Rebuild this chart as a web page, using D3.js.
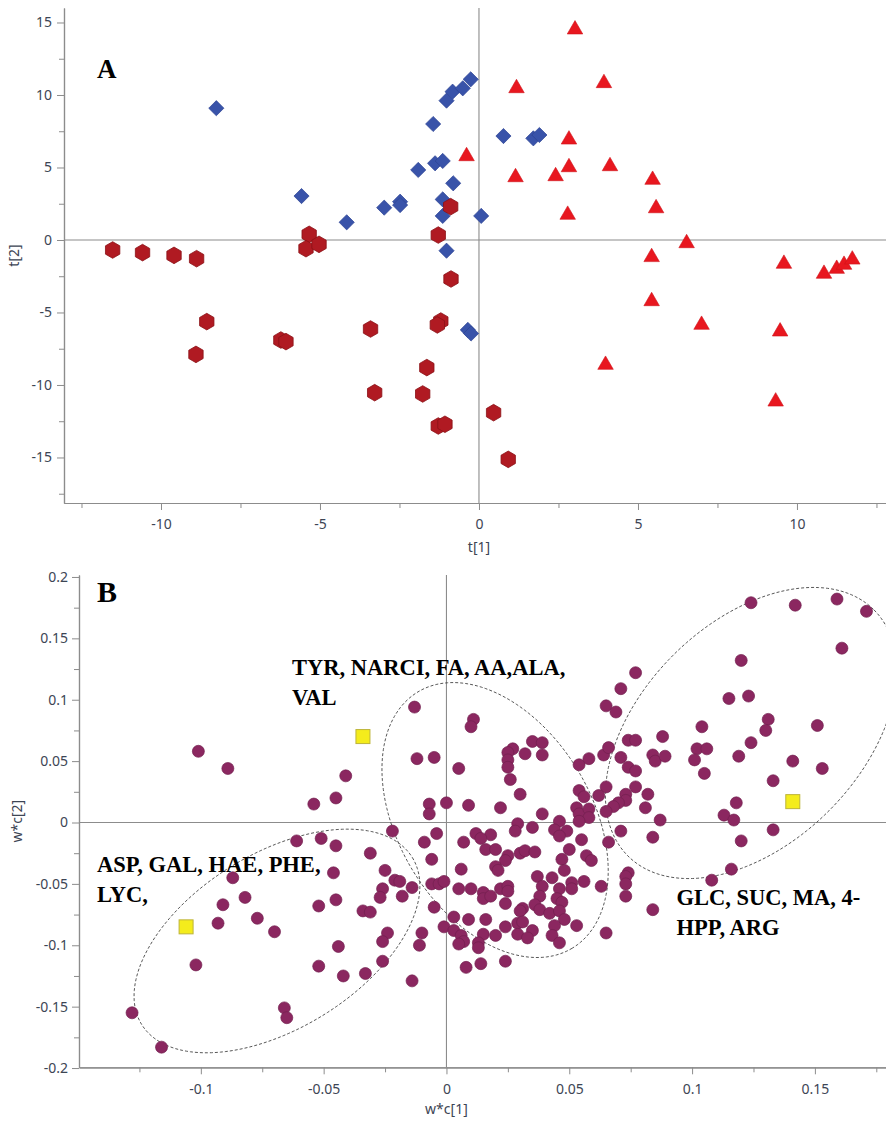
<!DOCTYPE html>
<html>
<head>
<meta charset="utf-8">
<script src="https://cdn.jsdelivr.net/npm/d3@7"></script>
<style>
  html, body { margin: 0; padding: 0; background: #ffffff; }
  svg { display: block; }
</style>
</head>
<body>
<svg id="chart" width="886" height="1122"></svg>
<script>
// ---------------- DATA ----------------
// Panel A: score plot t[1] vs t[2]
const scoresBlue = [
  [-8.26, 9.09], [-5.58, 3.03], [-4.16, 1.22], [-2.98, 2.23], [-2.48, 2.64], [-2.48, 2.41],
  [-1.91, 4.83], [-1.44, 8.00], [-1.38, 5.29], [-1.14, 5.45], [-1.02, 9.61], [-0.83, 10.23],
  [-0.51, 10.46], [-0.26, 11.08], [-0.81, 3.91], [-1.14, 2.80], [-1.14, 1.66], [-1.02, -0.74],
  [0.07, 1.66], [0.77, 7.17], [1.71, 7.01], [1.90, 7.24], [-0.35, -6.20], [-0.25, -6.45]
];
const scoresRed = [
  [3.02, 14.67], [1.18, 10.62], [3.93, 10.97], [-0.39, 5.93], [2.83, 7.08], [2.83, 5.17],
  [4.12, 5.24], [1.15, 4.48], [2.41, 4.55], [5.46, 4.30], [5.57, 2.34], [2.79, 1.89],
  [6.53, -0.07], [5.43, -1.03], [9.59, -1.49], [10.85, -2.18], [11.25, -1.84], [11.48, -1.56],
  [11.74, -1.20], [5.43, -4.07], [7.00, -5.70], [9.47, -6.16], [3.98, -8.46], [9.33, -10.99]
];
const scoresDark = [
  [-11.52, -0.69], [-10.58, -0.87], [-9.59, -1.06], [-8.88, -1.29], [-5.34, 0.39], [-5.44, -0.60],
  [-5.03, -0.30], [-1.28, 0.34], [-0.89, 2.30], [-0.88, -2.69], [-8.56, -5.63], [-8.90, -7.89],
  [-6.23, -6.90], [-6.07, -7.01], [-3.41, -6.14], [-1.20, -5.59], [-1.31, -5.86], [-1.64, -8.80],
  [-3.28, -10.53], [-1.77, -10.62], [-1.28, -12.83], [-1.07, -12.71], [0.46, -11.91], [0.92, -15.13]
];
const aXTicks = [-10, -5, 0, 5, 10];
const aXMinor = [-12.5, -7.5, -2.5, 2.5, 7.5, 12.5];
const aYTicks = [-15, -10, -5, 0, 5, 10, 15];
const aYMinor = [-17.5, -12.5, -7.5, -2.5, 2.5, 7.5, 12.5];
const aDomainX = [-13.05, 12.8];
const aDomainY = [-18.14, 16.0];

// Panel B: loading plot w*c[1] vs w*c[2]
const loadings = [
  [-0.101,0.058],[-0.089,0.044],[-0.041,0.038],[-0.045,0.020],[-0.054,0.015],
  [-0.013,0.094],[-0.012,0.052],[-0.005,0.053],[-0.007,0.015],[-0.007,0.007],
  [0.000,0.016],[-0.022,-0.007],[-0.004,-0.009],[-0.061,-0.015],[-0.051,-0.013],
  [-0.045,-0.019],[-0.009,-0.016],[-0.031,-0.025],[-0.006,-0.030],[-0.046,-0.041],
  [-0.025,-0.039],[-0.087,-0.045],[-0.082,-0.061],[-0.091,-0.067],[-0.052,-0.068],
  [-0.045,-0.063],[-0.026,-0.054],[-0.027,-0.061],[-0.021,-0.047],[-0.019,-0.048],
  [-0.018,-0.060],[-0.014,-0.053],[-0.006,-0.050],[-0.003,-0.050],[-0.001,-0.048],
  [-0.005,-0.069],[-0.034,-0.072],[-0.031,-0.073],[-0.077,-0.078],[-0.093,-0.082],
  [-0.070,-0.089],[-0.024,-0.090],[-0.026,-0.097],[-0.010,-0.090],[-0.011,-0.100],
  [-0.001,-0.085],[-0.044,-0.101],[-0.102,-0.116],[-0.052,-0.117],[-0.026,-0.113],
  [-0.042,-0.125],[-0.033,-0.123],[-0.014,-0.129],[-0.066,-0.151],[-0.065,-0.159],
  [-0.128,-0.155],[-0.116,-0.183],
  [0.077,0.122],[0.071,0.109],[0.065,0.095],[0.069,0.090],[0.011,0.084],[0.010,0.078],
  [0.005,0.044],[0.027,0.060],[0.025,0.057],[0.025,0.051],[0.025,0.045],[0.026,0.035],
  [0.035,0.066],[0.039,0.065],[0.032,0.056],[0.039,0.055],[0.030,0.023],[0.022,0.012],
  [0.039,0.007],[0.009,0.014],[0.054,0.047],[0.058,0.052],[0.064,0.055],[0.066,0.061],
  [0.071,0.053],[0.074,0.067],[0.077,0.067],[0.074,0.045],[0.077,0.042],[0.077,0.029],
  [0.073,0.023],[0.073,0.018],[0.070,0.016],[0.068,0.013],[0.065,0.029],[0.062,0.022],
  [0.054,0.026],[0.056,0.021],[0.053,0.012],[0.054,0.007],[0.058,0.011],[0.058,0.004],
  [0.054,0.001],[0.065,0.009],[0.046,0.001],[0.071,-0.007],[0.029,-0.001],[0.028,-0.007],
  [0.035,-0.004],[0.044,-0.006],[0.049,-0.007],[0.012,-0.009],[0.018,-0.010],
  [0.014,-0.013],[0.046,-0.011],[0.055,-0.014],[0.066,-0.016],[0.007,-0.016],[0.016,-0.022],
  [0.020,-0.022],[0.025,-0.027],[0.024,-0.031],[0.030,-0.025],[0.032,-0.023],[0.036,-0.024],
  [0.050,-0.022],[0.047,-0.030],[0.057,-0.027],[0.059,-0.031],[0.006,-0.038],[0.020,-0.036],
  [0.021,-0.039],[0.048,-0.039],[0.037,-0.044],[0.043,-0.045],[0.056,-0.048],[0.051,-0.049],
  [0.063,-0.052],[0.074,-0.041],[0.073,-0.044],[0.073,-0.050],[0.073,-0.060],[0.005,-0.054],
  [0.010,-0.054],[0.015,-0.057],[0.015,-0.062],[0.018,-0.060],[0.022,-0.054],[0.025,-0.052],
  [0.025,-0.056],[0.024,-0.066],[0.039,-0.052],[0.038,-0.060],[0.046,-0.054],[0.045,-0.062],
  [0.051,-0.054],[0.047,-0.065],[0.031,-0.070],[0.030,-0.072],[0.036,-0.067],[0.038,-0.071],
  [0.042,-0.074],[0.046,-0.072],[0.048,-0.079],[0.003,-0.077],[0.009,-0.079],[0.016,-0.079],
  [0.029,-0.082],[0.031,-0.081],[0.053,-0.084],[0.044,-0.084],[0.003,-0.088],[0.024,-0.085],
  [0.035,-0.088],[0.029,-0.091],[0.033,-0.094],[0.020,-0.092],[0.015,-0.091],[0.006,-0.092],
  [0.007,-0.097],[0.005,-0.099],[0.013,-0.098],[0.013,-0.102],[0.043,-0.092],[0.046,-0.098],
  [0.065,-0.090],[0.008,-0.118],[0.014,-0.115],[0.024,-0.113],
  [0.124,0.179],[0.142,0.177],[0.159,0.182],[0.171,0.172],[0.161,0.142],[0.120,0.132],
  [0.115,0.101],[0.123,0.103],[0.131,0.084],[0.130,0.075],[0.151,0.079],[0.104,0.078],
  [0.088,0.070],[0.124,0.065],[0.102,0.060],[0.106,0.060],[0.101,0.051],[0.084,0.055],
  [0.085,0.050],[0.089,0.054],[0.119,0.054],[0.141,0.050],[0.153,0.044],[0.105,0.040],
  [0.133,0.034],[0.082,0.023],[0.081,0.012],[0.118,0.016],[0.113,0.006],[0.117,0.002],
  [0.087,0.002],[0.084,-0.012],[0.133,-0.006],[0.120,-0.015],[0.116,-0.038],[0.108,-0.047],
  [0.084,-0.071]
];
const yLoadings = [[-0.034, 0.070], [-0.106, -0.085], [0.141, 0.017]];
// ellipses: centre and two semi-axis vectors in data units
const groupEllipses = [
  { c: [-0.0690, -0.0965], a: [0.0551, 0.0680], b: [0.0187, -0.0606] },
  { c: [0.0198, 0.0020], a: [0.0314, -0.1044], b: [-0.0337, -0.0405] },
  { c: [0.1240, 0.0729], a: [0.0501, 0.1002], b: [0.0317, -0.0634] }
];
const groupLabels = [
  { lines: ["TYR, NARCI, FA, AA,ALA,", "VAL"], at: [-0.0629, 0.1202] },
  { lines: ["ASP, GAL, HAE, PHE,", "LYC,"], at: [-0.1423, -0.0401] },
  { lines: ["GLC, SUC, MA, 4-", "HPP, ARG"], at: [0.0937, -0.0672] }
];
const bXTicks = [-0.1, -0.05, 0, 0.05, 0.1, 0.15];
const bXMinor = [-0.125, -0.075, -0.025, 0.025, 0.075, 0.125, 0.175];
const bYTicks = [-0.2, -0.15, -0.1, -0.05, 0, 0.05, 0.1, 0.15, 0.2];
const bYMinor = [-0.175, -0.125, -0.075, -0.025, 0.025, 0.075, 0.125, 0.175];
const bDomainX = [-0.1496, 0.17895];
const bDomainY = [-0.1994, 0.2016];

// ---------------- DRAWING ----------------
const W = 886, H = 1122;
const svg = d3.select("#chart");
const sansFont = "'Noto Sans', 'Open Sans', 'DejaVu Sans', sans-serif";
const serifFont = "'Liberation Serif', 'Times New Roman', 'DejaVu Serif', serif";
const axisColor = "#8c8c8c";
const textColor = "#3d4554";

function drawFrame(xs, ys, xt, xm, yt, ym, cfg) {
  const left = xs.range()[0], bottom = ys.range()[0];
  const fmt = d => String(d);
  const layers = [
    svg.append("g").attr("transform", `translate(${left},0)`)
      .call(d3.axisLeft(ys).tickValues(ym).tickSize(cfg.minor).tickFormat("").tickSizeOuter(0)),
    svg.append("g").attr("transform", `translate(${left},0)`)
      .call(d3.axisLeft(ys).tickValues(yt).tickSize(cfg.major).tickPadding(cfg.padY).tickFormat(fmt).tickSizeOuter(0)),
    svg.append("g").attr("transform", `translate(0,${bottom})`)
      .call(d3.axisBottom(xs).tickValues(xm).tickSize(cfg.minor).tickFormat("").tickSizeOuter(0)),
    svg.append("g").attr("transform", `translate(0,${bottom})`)
      .call(d3.axisBottom(xs).tickValues(xt).tickSize(cfg.major).tickPadding(cfg.padX).tickFormat(fmt).tickSizeOuter(0))
  ];
  layers.forEach(g => {
    g.select(".domain").attr("stroke", axisColor).attr("stroke-width", 1.2);
    g.selectAll(".tick line").attr("stroke", axisColor).attr("stroke-width", 1);
    g.selectAll(".tick text").attr("fill", textColor)
      .style("font-family", sansFont).style("font-size", "14px");
  });
  // zero lines
  svg.append("line")
    .attr("x1", xs(0)).attr("x2", xs(0))
    .attr("y1", ys.range()[1]).attr("y2", bottom)
    .attr("stroke", axisColor).attr("stroke-width", 1.1);
  svg.append("line")
    .attr("x1", left).attr("x2", xs.range()[1])
    .attr("y1", ys(0)).attr("y2", ys(0))
    .attr("stroke", axisColor).attr("stroke-width", 1.1);
  // axis titles
  svg.append("text")
    .attr("x", xs(0)).attr("y", cfg.xTitleY)
    .attr("text-anchor", "middle")
    .attr("fill", textColor)
    .style("font-family", sansFont).style("font-size", "14px")
    .text(cfg.xTitle);
  svg.append("text")
    .attr("transform", `translate(${cfg.yTitleX},${(ys.range()[0] + ys.range()[1]) / 2 + cfg.yTitleShift}) rotate(-90)`)
    .attr("text-anchor", "middle")
    .attr("fill", textColor)
    .style("font-family", sansFont).style("font-size", "14px")
    .text(cfg.yTitle);
}

// ----- Panel A -----
const xA = d3.scaleLinear().domain(aDomainX).range([64, 886]);
const yA = d3.scaleLinear().domain(aDomainY).range([503, 8]);
drawFrame(xA, yA, aXTicks, aXMinor, aYTicks, aYMinor, {
  major: 7, minor: 5, padY: 5, padX: 9,
  xTitle: "t[1]", xTitleY: 552, yTitle: "t[2]", yTitleX: 19, yTitleShift: 0
});

const diamondPath = (() => { const r = 7.6; return `M0,${-r}L${r},0L0,${r}L${-r},0Z`; })();
const trianglePath = (() => { const b = 15.5, h = 13.4; return `M0,${-h/2}L${b/2},${h/2}L${-b/2},${h/2}Z`; })();
const hexPath = (() => {
  const r = 8.3;
  return "M" + d3.range(6).map(k => {
    const ang = (-90 + 60 * k) * Math.PI / 180;
    return [r * Math.cos(ang), r * Math.sin(ang)].join(",");
  }).join("L") + "Z";
})();

const gA = svg.append("g");
gA.selectAll("path.blue").data(scoresBlue).join("path")
  .attr("class", "blue")
  .attr("d", diamondPath)
  .attr("transform", d => `translate(${xA(d[0])},${yA(d[1])})`)
  .attr("fill", "#3953a9").attr("stroke", "#2d4494").attr("stroke-width", 0.7);
gA.selectAll("path.red").data(scoresRed).join("path")
  .attr("class", "red")
  .attr("d", trianglePath)
  .attr("transform", d => `translate(${xA(d[0])},${yA(d[1])})`)
  .attr("fill", "#e8171f").attr("stroke", "#d0131a").attr("stroke-width", 0.6);
gA.selectAll("path.dark").data(scoresDark).join("path")
  .attr("class", "dark")
  .attr("d", hexPath)
  .attr("transform", d => `translate(${xA(d[0])},${yA(d[1])})`)
  .attr("fill", "#b01a22").attr("stroke", "#8a1117").attr("stroke-width", 0.8);

svg.append("text")
  .attr("x", 97).attr("y", 78)
  .style("font-family", serifFont).style("font-weight", "bold").style("font-size", "27px")
  .attr("fill", "#000").text("A");

// ----- Panel B -----
const xB = d3.scaleLinear().domain(bDomainX).range([79, 886]);
const yB = d3.scaleLinear().domain(bDomainY).range([1067.3, 575]);
drawFrame(xB, yB, bXTicks, bXMinor, bYTicks, bYMinor, {
  major: 7, minor: 5, padY: 4, padX: 10,
  xTitle: "w*c[1]", xTitleY: 1114, yTitle: "w*c[2]", yTitleX: 22, yTitleShift: 0
});

const ellLine = d3.line().curve(d3.curveLinearClosed);
svg.append("g").selectAll("path").data(groupEllipses).join("path")
  .attr("d", e => ellLine(d3.range(0, 2 * Math.PI, Math.PI / 90).map(t => {
    const vx = e.c[0] + e.a[0] * Math.cos(t) + e.b[0] * Math.sin(t);
    const vy = e.c[1] + e.a[1] * Math.cos(t) + e.b[1] * Math.sin(t);
    return [xB(vx), yB(vy)];
  })))
  .attr("fill", "none").attr("stroke", "#444").attr("stroke-width", 0.9)
  .attr("stroke-dasharray", "3,2");

svg.append("g").selectAll("circle").data(loadings).join("circle")
  .attr("cx", d => xB(d[0])).attr("cy", d => yB(d[1])).attr("r", 6)
  .attr("fill", "#8b2760").attr("stroke", "#731f4f").attr("stroke-width", 0.7);

const sq = 14;
svg.append("g").selectAll("rect").data(yLoadings).join("rect")
  .attr("x", d => xB(d[0]) - sq / 2).attr("y", d => yB(d[1]) - sq / 2)
  .attr("width", sq).attr("height", sq)
  .attr("fill", "#f4ec1c").attr("stroke", "#bdb43a").attr("stroke-width", 1);

const lab = svg.append("g");
groupLabels.forEach(gl => {
  const t = lab.append("text")
    .attr("x", xB(gl.at[0])).attr("y", yB(gl.at[1]))
    .style("font-family", serifFont).style("font-weight", "bold").style("font-size", "22.5px")
    .attr("fill", "#000");
  gl.lines.forEach((ln, i) => {
    t.append("tspan").attr("x", xB(gl.at[0])).attr("dy", i === 0 ? 0 : 30).text(ln);
  });
});

svg.append("text")
  .attr("x", 97).attr("y", 602)
  .style("font-family", serifFont).style("font-weight", "bold").style("font-size", "30px")
  .attr("fill", "#000").text("B");
</script>
</body>
</html>
